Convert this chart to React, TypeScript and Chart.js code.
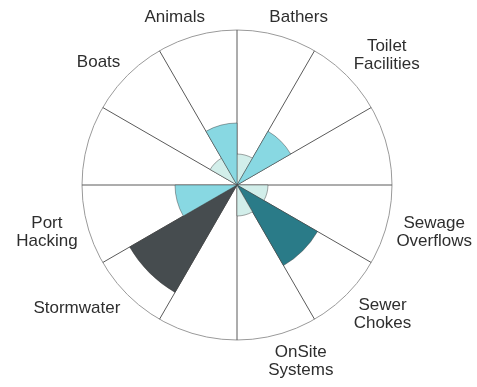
import React, { useEffect, useRef } from 'react';
import { Chart, registerables } from 'chart.js';

Chart.register(...registerables);

// Categories clockwise from 12 o'clock (empty strings are unlabeled sectors)
const categories: (string | string[])[] = [
  'Bathers',
  ['Toilet', 'Facilities'],
  '',
  ['Sewage', 'Overflows'],
  ['Sewer', 'Chokes'],
  ['OnSite', 'Systems'],
  '',
  'Stormwater',
  ['Port', 'Hacking'],
  '',
  'Boats',
  'Animals',
];
const values = [1, 2, 0, 1, 3, 1, 0, 4, 2, 0, 1, 2];
const levelColors = ['#ffffff', '#d2eeea', '#88d8e2', '#2a7b88', '#464c4f'];
const scaleMin = 0;
const scaleMax = 5;

const FONT_FAMILY = 'Arial, "Liberation Sans", sans-serif';
const FONT_SIZE = 17;
const LINE_HEIGHT = 18;
const LABEL_GAP = 10;
const LABEL_COLOR = '#2e2e2e';

// Draws centred (multi-line) sector labels around the radial scale
const sectorLabelPlugin = {
  id: 'sectorLabels',
  afterDraw(chart: any) {
    const scale = chart.scales.r;
    if (!scale) return;
    const ctx: CanvasRenderingContext2D = chart.ctx;
    const n = categories.length;
    const cx = scale.xCenter;
    const cy = scale.yCenter;
    const radius = scale.getDistanceFromCenterForValue(scaleMax);
    ctx.save();
    ctx.font = `${FONT_SIZE}px ${FONT_FAMILY}`;
    ctx.fillStyle = LABEL_COLOR;
    ctx.textAlign = 'center';
    ctx.textBaseline = 'middle';
    categories.forEach((label, i) => {
      const lines = Array.isArray(label) ? label : [label];
      if (!lines.join('')) return;
      const theta = ((i + 0.5) * 2 * Math.PI) / n;
      const s = Math.sin(theta);
      const c = Math.cos(theta);
      const d = radius + LABEL_GAP;
      const w = Math.max(...lines.map((l) => ctx.measureText(l).width));
      const h = lines.length * LINE_HEIGHT;
      const fx = Math.max(-1, Math.min(1, 2.5 * s));
      const bx = cx + d * s + (fx * w) / 2;
      const by = cy - d * c - (c * h) / 2;
      lines.forEach((line, k) => {
        ctx.fillText(line, bx, by - h / 2 + LINE_HEIGHT * (k + 0.5));
      });
    });
    ctx.restore();
  },
};

export default function App() {
  const canvasRef = useRef<HTMLCanvasElement | null>(null);

  useEffect(() => {
    const canvas = canvasRef.current;
    if (!canvas) return;
    const chart = new Chart(canvas, {
      type: 'polarArea',
      data: {
        labels: categories,
        datasets: [
          {
            data: values,
            backgroundColor: values.map((v) => levelColors[v]),
            borderColor: 'rgba(60,60,60,0.45)',
            borderWidth: 1,
          },
        ],
      },
      options: {
        animation: false,
        responsive: true,
        maintainAspectRatio: false,
        layout: { padding: { left: 82, right: 84, top: 29, bottom: 46 } },
        plugins: {
          legend: { display: false },
          tooltip: { enabled: false },
        },
        scales: {
          r: {
            min: scaleMin,
            max: scaleMax,
            startAngle: 0,
            ticks: { display: false, stepSize: 5 },
            grid: { color: '#9a9a9a', lineWidth: 1 },
            angleLines: { display: true, color: '#5a5a5a', lineWidth: 1 },
            pointLabels: { display: false },
          },
        },
      },
      plugins: [sectorLabelPlugin],
    });
    return () => chart.destroy();
  }, []);

  return (
    <div style={{ position: 'absolute', left: 0, top: 0, width: 477, height: 387 }}>
      <canvas ref={canvasRef} />
    </div>
  );
}
